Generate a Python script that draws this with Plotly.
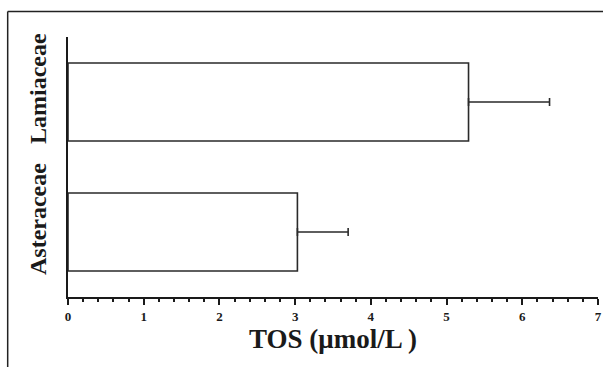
import plotly.graph_objects as go

categories = ["Asteraceae", "Lamiaceae"]
tos_values = [3.03, 5.29]
tos_errors = [0.67, 1.07]
x_ticks = [0, 1, 2, 3, 4, 5, 6, 7]

fig = go.Figure()
fig.add_trace(go.Bar(
    y=categories, x=tos_values, orientation="h", width=0.6,
    marker=dict(color="white", line=dict(color="#2a2a2a", width=1.6)),
    error_x=dict(type="data", array=tos_errors, arrayminus=[0, 0], symmetric=False,
                 color="#2a2a2a", thickness=1.6, width=4),
))

serif = "Liberation Serif, Times New Roman, serif"
fig.update_layout(
    width=603, height=367,
    margin=dict(l=68, r=5, t=37, b=70),
    paper_bgcolor="white", plot_bgcolor="white",
    showlegend=False,
    font=dict(family=serif, color="#1a1a1a"),
    xaxis=dict(
        range=[0, 7], tickvals=x_ticks, ticktext=[f"<b>{v}</b>" for v in x_ticks],
        showline=True, linecolor="#1a1a1a", linewidth=2,
        ticks="outside", ticklen=6, tickwidth=2, tickcolor="#1a1a1a",
        tickfont=dict(size=13, family=serif),
        minor=dict(dtick=0.2, ticks="outside", ticklen=3, tickwidth=2, tickcolor="#1a1a1a"),
        showgrid=False, zeroline=False, automargin=False,
        title=dict(text="<b>TOS (μmol/L )</b>", font=dict(size=27, family=serif), standoff=6),
    ),
    yaxis=dict(
        range=[-0.5, 1.5], categoryorder="array", categoryarray=categories,
        showline=True, linecolor="#1a1a1a", linewidth=2,
        ticks="", showgrid=False, zeroline=False, automargin=False,
        showticklabels=False,
    ),
    shapes=[
        dict(type="line", xref="paper", yref="paper", x0=-0.1138, x1=1.02, y0=1.0985, y1=1.0985,
             line=dict(color="#222", width=1.5)),
        dict(type="line", xref="paper", yref="paper", x0=-0.1138, x1=-0.1138, y0=1.0985, y1=-0.3,
             line=dict(color="#222", width=1.5)),
    ],
)

for c in categories:
    fig.add_annotation(
        x=-0.0566, xref="paper", y=c, yref="y", text=f"<b>{c}</b>",
        textangle=-90, showarrow=False, yshift=13, xanchor="center", yanchor="middle",
        font=dict(size=24, family=serif, color="#1a1a1a"),
    )

fig.write_html("out.html", config={"displayModeBar": False},
               post_script="document.body.style.margin='0';")
